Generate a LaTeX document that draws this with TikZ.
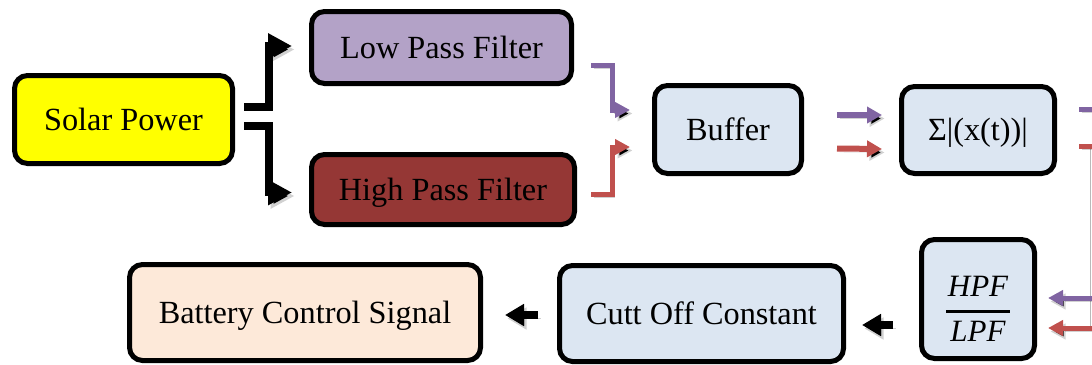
\documentclass[tikz,border=0pt]{standalone}
\usepackage{fontspec}
\setmainfont{Liberation Serif}
\usetikzlibrary{arrows.meta,calc}
\definecolor{cyel}{HTML}{FFFF00}
\definecolor{clow}{HTML}{B3A2C7}
\definecolor{chigh}{HTML}{953735}
\definecolor{cblue}{HTML}{DCE6F2}
\definecolor{cpeach}{HTML}{FDE9D9}
\definecolor{cpurp}{HTML}{8064A2}
\definecolor{cred}{HTML}{C0504D}
\tikzset{
  boxx/.style={draw=black, line width=5pt, rounded corners=13pt, inner sep=0pt,
    font=\fontsize{32.3}{38}\selectfont},
  capc/.style={text height=21.3pt, text depth=0pt},
  shd/.style={preaction={draw=black, draw opacity=.18, transform canvas={shift={(2.5pt,-3.5pt)}}}},
  elbowblk/.style={shd, draw=black, line width=7.5pt, -{Triangle[length=24pt,width=24pt]}},
  pline/.style={shd, draw=cpurp, line width=5pt, -{Triangle[length=15pt,width=15pt]}},
  rline/.style={shd, draw=cred, line width=5pt, -{Triangle[length=15pt,width=15pt]}},
  pmid/.style={shd, draw=cpurp, line width=6pt, -{Triangle[length=15pt,width=16pt]}},
  rmid/.style={shd, draw=cred, line width=6pt, -{Triangle[length=15pt,width=16pt]}},
  blockarr/.style={shd, draw=black, line width=8pt, -{Triangle[length=19pt,width=21pt]}},
}
\begin{document}
\begin{tikzpicture}[x=1pt,y=-1pt]
\useasboundingbox (0,0) rectangle (1092,364);
\clip (0,0) rectangle (1092,364);

\node[boxx, capc, fill=cyel, minimum width=218pt, minimum height=88pt] (solar) at (123.5,119.5) {Solar Power};
\node[boxx, capc, fill=clow, minimum width=260pt, minimum height=72pt] (lpf) at (441.5,47.5) {Low Pass Filter};
\node[boxx, capc, fill=chigh, minimum width=263pt, minimum height=70pt] (hpf) at (443,189.5) {High Pass Filter};
\node[boxx, capc, fill=cblue, minimum width=147pt, minimum height=88pt] (buf) at (728,129.5) {Buffer};
\node[boxx, capc, fill=cblue, minimum width=153pt, minimum height=87pt] (sig) at (978,130) {Σ|(x(t))|};
\node[boxx, fill=cblue, minimum width=113pt, minimum height=119pt, text height=84pt, text depth=0pt] (ratio) at (978,299)
  {\fontsize{31}{36}\selectfont\itshape\vbox{\hbox to 64pt{\hss HPF\hss}\kern13pt\hrule height3pt\kern8pt\hbox to 64pt{\hss LPF\hss}}};
\node[boxx, capc, fill=cblue, minimum width=284pt, minimum height=96pt] (cut) at (701.5,313.5) {Cutt Off Constant};
\node[boxx, capc, fill=cpeach, minimum width=351pt, minimum height=96pt] (bat) at (305,312.5) {Battery Control Signal};

% solar to filters
\draw[elbowblk] ([xshift=9pt,yshift=12.5pt]solar.east) -| ([xshift=-40pt,yshift=1.5pt]lpf.west) -- ([xshift=-17pt,yshift=1.5pt]lpf.west);
\draw[elbowblk] ([xshift=9pt,yshift=-6.5pt]solar.east) -| ([xshift=-40pt,yshift=-3pt]hpf.west) -- ([xshift=-17pt,yshift=-3pt]hpf.west);

% filters to buffer
\draw[pline] ([xshift=17pt,yshift=-17.5pt]lpf.east) -| ([xshift=-40pt,yshift=19.5pt]buf.west) -- ([xshift=-22pt,yshift=19.5pt]buf.west);
\draw[rline] ([xshift=14pt,yshift=-4.5pt]hpf.east) -| ([xshift=-40pt,yshift=-17.5pt]buf.west) -- ([xshift=-22pt,yshift=-17.5pt]buf.west);

% buffer to sigma
\draw[pmid] ([xshift=33pt,yshift=14.5pt]buf.east) -- ([xshift=-17pt,yshift=15pt]sig.west);
\draw[rmid] ([xshift=33pt,yshift=-19pt]buf.east) -- ([xshift=-17pt,yshift=-19pt]sig.west);

% sigma to ratio (via right edge)
\draw[gray!55, line width=1pt] (1090,146) -- (1090,330);
\draw[pline] ([xshift=22pt,yshift=21pt]sig.east) -| ([xshift=75pt,yshift=1pt]ratio.east) -- ([xshift=11pt,yshift=1pt]ratio.east);
\draw[rline] ([xshift=22pt,yshift=-16pt]sig.east) -| ([xshift=80pt,yshift=-29pt]ratio.east) -- ([xshift=11pt,yshift=-29pt]ratio.east);

% bottom chain
\draw[blockarr] ([xshift=-26pt,yshift=-26pt]ratio.west) -- ([xshift=16pt,yshift=-11.5pt]cut.east);
\draw[blockarr] ([xshift=-19pt,yshift=-1.5pt]cut.west) -- ([xshift=22pt,yshift=-2.5pt]bat.east);
\end{tikzpicture}
\end{document}
